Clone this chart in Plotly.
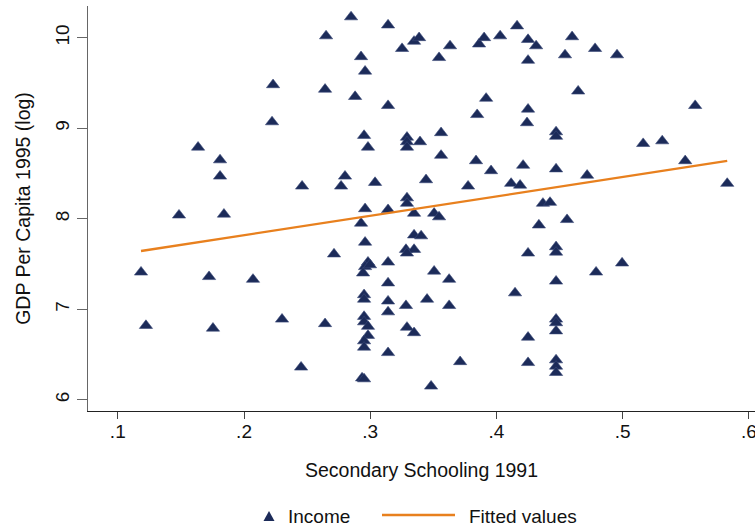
import plotly.graph_objects as go

# Secondary schooling 1991 (x) and log GDP per capita 1995 (y)
schooling = [
    0.1184, 0.1223, 0.1485, 0.1636, 0.1723, 0.1754, 0.1810, 0.1810, 0.1841, 0.2071,
    0.2230, 0.2222, 0.2301, 0.2460, 0.2452, 0.2848, 0.3141, 0.2650, 0.2927, 0.2959,
    0.3252, 0.3347, 0.3387, 0.3632, 0.3545, 0.3862, 0.3902, 0.4029, 0.4163, 0.4250,
    0.4314, 0.4250, 0.4599, 0.4543, 0.4781, 0.4955, 0.2642, 0.2880, 0.3141, 0.3918,
    0.3847, 0.4647, 0.4250, 0.4242, 0.4472, 0.4472, 0.5574, 0.5162, 0.5313, 0.2951,
    0.2982, 0.3291, 0.3291, 0.3291, 0.3394, 0.3561, 0.3561, 0.3838, 0.3957, 0.4211,
    0.4472, 0.4718, 0.5495, 0.5828, 0.2800, 0.2769, 0.3038, 0.3442, 0.3775, 0.4116,
    0.4187, 0.3291, 0.3291, 0.2959, 0.3141, 0.3347, 0.3506, 0.3545, 0.2927, 0.3347,
    0.3403, 0.2959, 0.2713, 0.3283, 0.3347, 0.3291, 0.2982, 0.2959, 0.2943, 0.2998,
    0.3141, 0.3506, 0.3625, 0.3141, 0.2951, 0.2951, 0.3141, 0.3283, 0.3450, 0.3625,
    0.2951, 0.2951, 0.2982, 0.3141, 0.3291, 0.3347, 0.2982, 0.2951, 0.2951, 0.2642,
    0.3141, 0.3712, 0.2935, 0.2951, 0.3482, 0.4368, 0.4424, 0.4336, 0.4559, 0.4250,
    0.4472, 0.4472, 0.4789, 0.4995, 0.4472, 0.4147, 0.4472, 0.4472, 0.4472, 0.4250,
    0.4250, 0.4472, 0.4472, 0.4472,
]
income = [
    7.41, 6.82, 8.04, 8.79, 7.36, 6.79, 8.65, 8.47, 8.05, 7.33,
    9.48, 9.07, 6.89, 8.36, 6.36, 10.23, 10.14, 10.02, 9.79, 9.63,
    9.88, 9.96, 10.00, 9.91, 9.78, 9.93, 10.00, 10.02, 10.13, 9.98,
    9.91, 9.75, 10.01, 9.81, 9.88, 9.81, 9.43, 9.35, 9.25, 9.33,
    9.15, 9.41, 9.21, 9.06, 8.96, 8.91, 9.25, 8.83, 8.86, 8.92,
    8.79, 8.90, 8.85, 8.79, 8.85, 8.95, 8.70, 8.64, 8.53, 8.59,
    8.55, 8.48, 8.64, 8.39, 8.47, 8.36, 8.40, 8.43, 8.36, 8.39,
    8.37, 8.23, 8.17, 8.11, 8.10, 8.06, 8.06, 8.02, 7.95, 7.82,
    7.81, 7.74, 7.61, 7.66, 7.66, 7.62, 7.52, 7.47, 7.40, 7.49,
    7.52, 7.42, 7.33, 7.29, 7.16, 7.11, 7.09, 7.04, 7.11, 7.04,
    6.92, 6.86, 6.81, 6.97, 6.80, 6.74, 6.71, 6.65, 6.58, 6.84,
    6.52, 6.42, 6.24, 6.23, 6.15, 8.17, 8.18, 7.93, 7.99, 7.62,
    7.69, 7.63, 7.41, 7.51, 7.31, 7.18, 6.89, 6.85, 6.76, 6.69,
    6.41, 6.44, 6.37, 6.30,
]
# Fitted values (endpoints of the linear fit)
fit_x = [0.1184, 0.5828]
fit_y = [7.644, 8.639]

x_ticks = [0.1, 0.2, 0.3, 0.4, 0.5, 0.6]
x_ticktext = [".1", ".2", ".3", ".4", ".5", ".6"]
y_ticks = [6, 7, 8, 9, 10]

NAVY = "#1c2b59"
ORANGE = "#e8801e"
FONT = "Liberation Sans, Arial, sans-serif"

fig = go.Figure()
fig.add_trace(go.Scatter(
    x=schooling, y=income, mode="markers", name="Income",
    marker=dict(symbol="triangle-up", size=11.5, color=NAVY,
                line=dict(width=0.6, color="#3b4a78")),
))
fig.add_trace(go.Scatter(
    x=fit_x, y=fit_y, mode="lines", name="Fitted values",
    line=dict(color=ORANGE, width=2.3),
))

W, H = 755, 529
ml, mr, mt, mb = 88, 0, 6, 118
pw, ph = W - ml - mr, H - mt - mb


def px(x):
    return (x - ml) / pw


def py(y):
    return (H - mb - y) / ph


fig.update_layout(
    width=W, height=H,
    margin=dict(l=ml, r=mr, t=mt, b=mb),
    plot_bgcolor="white", paper_bgcolor="white",
    showlegend=False,
    font=dict(family=FONT, size=19, color="#111111"),
    xaxis=dict(
        range=[0.0764, 0.6048], tickvals=x_ticks, ticktext=x_ticktext,
        ticks="outside", ticklen=7, tickcolor="#444444", tickwidth=1.2,
        showline=True, linecolor="#222222", linewidth=1.3,
        showgrid=False, zeroline=False, automargin=False,
        tickfont=dict(size=19), ticklabeloverflow="allow", ticklabelstandoff=-4,
        title=dict(text="Secondary Schooling 1991", font=dict(size=19.5), standoff=22),
    ),
    yaxis=dict(
        range=[5.876, 10.351], tickvals=y_ticks, tickangle=-90,
        ticks="outside", ticklen=10, tickcolor="#666666", tickwidth=1.2,
        showline=True, linecolor="#666666", linewidth=1.3,
        showgrid=False, zeroline=False, automargin=False,
        tickfont=dict(size=19),
        title=dict(text="GDP Per Capita 1995 (log)", font=dict(size=19.5), standoff=16),
    ),
)

# Legend drawn at the bottom (Stata style)
ly = 516
tri_cx, tw, th = 269, 11, 10
fig.add_shape(
    type="path", xref="paper", yref="paper",
    path=(f"M {px(tri_cx - tw / 2)},{py(ly + th / 2)} "
          f"L {px(tri_cx + tw / 2)},{py(ly + th / 2)} "
          f"L {px(tri_cx)},{py(ly - th / 2)} Z"),
    fillcolor=NAVY, line=dict(width=0),
)
fig.add_shape(
    type="line", xref="paper", yref="paper",
    x0=px(382), x1=px(455), y0=py(ly - 1), y1=py(ly - 1),
    line=dict(color=ORANGE, width=2.3),
)
fig.add_annotation(x=px(286), y=py(ly), xref="paper", yref="paper",
                   text="Income", showarrow=False, xanchor="left", yanchor="middle",
                   font=dict(size=19))
fig.add_annotation(x=px(467), y=py(ly), xref="paper", yref="paper",
                   text="Fitted values", showarrow=False, xanchor="left", yanchor="middle",
                   font=dict(size=19))

fig.write_html("out.html")
